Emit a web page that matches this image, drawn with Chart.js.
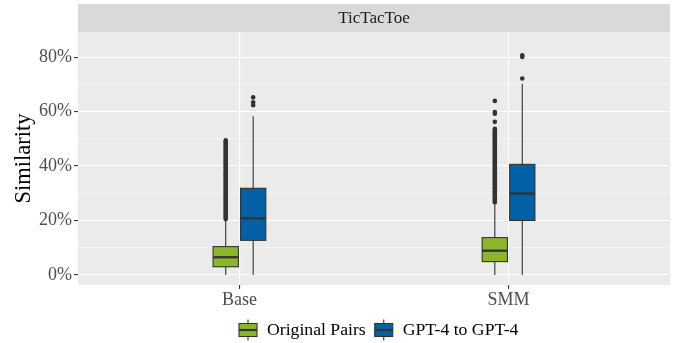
<!DOCTYPE html>
<html>
<head>
<meta charset="utf-8">
<script src="https://cdn.jsdelivr.net/npm/chart.js@4.4.1/dist/chart.umd.min.js"></script>
<style>
  html, body { margin: 0; padding: 0; background: #fff; }
  #wrap { width: 681px; height: 343px; }
</style>
</head>
<body>
<div id="wrap"><canvas id="chart" width="681" height="343"></canvas></div>
<script>
// Data (fractions, 0.2 = 20%)
const facetTitle = 'TicTacToe';
const categories = ['Base', 'SMM'];
const seriesNames = ['Original Pairs', 'GPT-4 to GPT-4'];
const yTickValues = [0, 0.2, 0.4, 0.6, 0.8];
const yMinorValues = [0.1, 0.3, 0.5, 0.7];

// box stats per series, one value per category
const origLow = [0, 0];
const origQ1 = [0.030, 0.049];
const origMedian = [0.065, 0.089];
const origQ3 = [0.104, 0.137];
const origHigh = [0.201, 0.263];

const gptLow = [0, 0];
const gptQ1 = [0.127, 0.200];
const gptMedian = [0.208, 0.299];
const gptQ3 = [0.318, 0.406];
const gptHigh = [0.583, 0.702];

// outliers (the dense runs are many overlapping points)
const origOutBase = [0.205, 0.210, 0.215, 0.220, 0.225, 0.230, 0.235, 0.240, 0.245, 0.250,
  0.255, 0.260, 0.265, 0.270, 0.275, 0.280, 0.285, 0.290, 0.295, 0.300, 0.305, 0.310,
  0.315, 0.320, 0.325, 0.330, 0.335, 0.340, 0.345, 0.350, 0.355, 0.360, 0.365, 0.370,
  0.375, 0.380, 0.385, 0.390, 0.395, 0.400, 0.405, 0.410, 0.415, 0.420, 0.425, 0.430,
  0.435, 0.440, 0.445, 0.450, 0.455, 0.460, 0.465, 0.470, 0.475, 0.480, 0.485, 0.490, 0.494];
const origOutSMM = [0.267, 0.272, 0.277, 0.282, 0.287, 0.292, 0.297, 0.302, 0.307, 0.312,
  0.317, 0.322, 0.327, 0.332, 0.337, 0.342, 0.347, 0.352, 0.357, 0.362, 0.367, 0.372,
  0.377, 0.382, 0.387, 0.392, 0.397, 0.402, 0.407, 0.412, 0.417, 0.422, 0.427, 0.432,
  0.437, 0.442, 0.447, 0.452, 0.457, 0.462, 0.467, 0.472, 0.477, 0.482, 0.487, 0.492,
  0.497, 0.502, 0.507, 0.512, 0.517, 0.522, 0.527, 0.532, 0.537, 0.562, 0.592, 0.598, 0.639];
const gptOutBase = [0.623, 0.634, 0.652];
const gptOutSMM = [0.721, 0.800, 0.806];

const colors = ['#8DB72B', '#0061A7'];
const dodge = [-0.051, 0.051];
const boxWidth = 0.094;
const ink = '#333333';
const serif = '"Liberation Serif", "DejaVu Serif", serif';

const stats = [
  { low: origLow, q1: origQ1, med: origMedian, q3: origQ3, high: origHigh },
  { low: gptLow, q1: gptQ1, med: gptMedian, q3: gptQ3, high: gptHigh }
];

function pts(cat, s, vals) {
  return vals.map(v => ({ x: cat + 1 + dodge[s], y: v }));
}

const boxPlugin = {
  id: 'boxPlugin',
  beforeDraw(chart) {
    const { ctx, chartArea: a } = chart;
    ctx.save();
    // facet strip
    ctx.fillStyle = '#D9D9D9';
    ctx.fillRect(a.left, 4, a.right - a.left, a.top - 4);
    ctx.fillStyle = '#1A1A1A';
    ctx.font = '17px ' + serif;
    ctx.textAlign = 'center';
    ctx.textBaseline = 'middle';
    ctx.fillText(facetTitle, (a.left + a.right) / 2, (a.top + 4) / 2 + 1);
    // panel
    ctx.fillStyle = '#EBEBEB';
    ctx.fillRect(a.left, a.top, a.right - a.left, a.bottom - a.top);
    ctx.restore();
  },
  beforeDatasetsDraw(chart) {
    const { ctx, chartArea: a, scales: { x, y } } = chart;
    ctx.save();
    ctx.strokeStyle = '#FFFFFF';
    ctx.lineWidth = 0.55;
    yMinorValues.forEach(v => {
      const py = y.getPixelForValue(v);
      ctx.beginPath(); ctx.moveTo(a.left, py); ctx.lineTo(a.right, py); ctx.stroke();
    });
    const half = (x.getPixelForValue(boxWidth) - x.getPixelForValue(0)) / 2;
    categories.forEach((c, i) => {
      stats.forEach((st, s) => {
        const cx = x.getPixelForValue(i + 1 + dodge[s]);
        const yl = y.getPixelForValue(st.low[i]);
        const y1 = y.getPixelForValue(st.q1[i]);
        const ym = y.getPixelForValue(st.med[i]);
        const y3 = y.getPixelForValue(st.q3[i]);
        const yh = y.getPixelForValue(st.high[i]);
        ctx.strokeStyle = ink;
        ctx.lineWidth = 1.1;
        ctx.beginPath();
        ctx.moveTo(cx, yl); ctx.lineTo(cx, y1);
        ctx.moveTo(cx, y3); ctx.lineTo(cx, yh);
        ctx.stroke();
        ctx.fillStyle = colors[s];
        ctx.fillRect(cx - half, y3, half * 2, y1 - y3);
        ctx.strokeRect(cx - half, y3, half * 2, y1 - y3);
        ctx.lineWidth = 2.3;
        ctx.beginPath(); ctx.moveTo(cx - half, ym); ctx.lineTo(cx + half, ym); ctx.stroke();
      });
    });
    ctx.restore();
  },
  afterDraw(chart) {
    const { ctx, chartArea: a } = chart;
    ctx.save();
    ctx.font = '17.7px ' + serif;
    ctx.textBaseline = 'middle';
    const keyW = 18, gap = 10, spacing = 9;
    const widths = seriesNames.map(n => ctx.measureText(n).width);
    const total = widths.reduce((t, w) => t + keyW + gap + w, 0) + spacing;
    let px = (a.left + a.right) / 2 + 4.7 - total / 2;
    const cy = 330;
    seriesNames.forEach((n, s) => {
      const kx = px + keyW / 2;
      ctx.strokeStyle = ink;
      ctx.lineWidth = 1.1;
      ctx.beginPath(); ctx.moveTo(kx, cy - 10.5); ctx.lineTo(kx, cy + 10.5); ctx.stroke();
      ctx.fillStyle = colors[s];
      ctx.fillRect(px, cy - 6.5, keyW, 13);
      ctx.strokeRect(px, cy - 6.5, keyW, 13);
      ctx.lineWidth = 2.2;
      ctx.beginPath(); ctx.moveTo(px, cy); ctx.lineTo(px + keyW, cy); ctx.stroke();
      ctx.fillStyle = '#000000';
      ctx.fillText(n, px + keyW + gap, cy);
      px += keyW + gap + widths[s] + spacing;
    });
    ctx.restore();
  }
};

const datasets = [
  { data: pts(0, 0, origOutBase) },
  { data: pts(1, 0, origOutSMM) },
  { data: pts(0, 1, gptOutBase) },
  { data: pts(1, 1, gptOutSMM) }
].map(d => Object.assign(d, {
  pointRadius: 2.3, pointBackgroundColor: ink, pointBorderWidth: 0, showLine: false
}));

new Chart(document.getElementById('chart'), {
  type: 'scatter',
  data: { datasets },
  options: {
    responsive: false,
    animation: false,
    events: [],
    layout: { padding: { top: 32, right: 11, bottom: 33, left: 0 } },
    plugins: { legend: { display: false }, tooltip: { enabled: false } },
    scales: {
      x: {
        type: 'linear', min: 0.4, max: 2.6,
        afterBuildTicks: s => { s.ticks = categories.map((c, i) => ({ value: i + 1 })); },
        afterFit: s => { s.height = 25; },
        ticks: {
          autoSkip: false, color: '#4D4D4D', padding: 0,
          font: { family: serif, size: 18 },
          callback: v => categories[v - 1]
        },
        grid: { color: '#FFFFFF', lineWidth: 1.1, tickColor: ink, tickLength: 4 },
        border: { display: false }
      },
      y: {
        min: -0.037, max: 0.892,
        afterBuildTicks: s => { s.ticks = yTickValues.map(v => ({ value: v })); },
        afterFit: s => { s.width = 78; },
        ticks: {
          autoSkip: false, color: '#4D4D4D', padding: 2,
          font: { family: serif, size: 18 },
          callback: v => Math.round(v * 100) + '%'
        },
        grid: { color: '#FFFFFF', lineWidth: 1.1, tickColor: ink, tickLength: 4 },
        border: { display: false },
        title: {
          display: true, text: 'Similarity', color: '#000000',
          font: { family: serif, size: 22.5 }, padding: { top: 11, bottom: 0 }
        }
      }
    }
  },
  plugins: [boxPlugin]
});
</script>
</body>
</html>
